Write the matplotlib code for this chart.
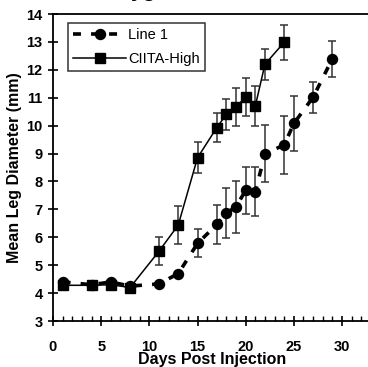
import numpy as np
import matplotlib.pyplot as plt
from matplotlib.ticker import MultipleLocator

plt.rcParams['font.family'] = ['Liberation Sans', 'DejaVu Sans']

# Line 1 (circles, dashed)
days_line1 = [1, 4, 6, 8, 11, 13, 15, 17, 18, 19, 20, 21, 22, 24, 25, 27, 29]
mean_line1 = [4.4, 4.3, 4.4, 4.25, 4.33, 4.7, 5.78, 6.46, 6.86, 7.1, 7.68, 7.63, 8.99, 9.31, 10.08, 11.02, 12.4]
err_line1 = [0, 0, 0, 0, 0, 0, 0.5, 0.71, 0.9, 0.93, 0.85, 0.88, 1.02, 1.04, 0.99, 0.56, 0.65]

# CIITA-High (squares, solid)
days_ciita = [1, 4, 6, 8, 11, 13, 15, 17, 18, 19, 20, 21, 22, 24]
mean_ciita = [4.28, 4.28, 4.3, 4.2, 5.5, 6.44, 8.85, 9.93, 10.41, 10.67, 11.02, 10.71, 12.2, 12.99]
err_ciita = [0, 0, 0, 0, 0.5, 0.68, 0.55, 0.53, 0.55, 0.67, 0.69, 0.72, 0.56, 0.62]

fig = plt.figure(figsize=(3.68, 3.67), dpi=100)
ax = fig.add_axes([0.144, 0.1253, 0.864, 0.8365])

# error bars first so markers sit on top
ax.errorbar(days_line1, mean_line1, yerr=err_line1, fmt='none', ecolor='#333333',
            elinewidth=1.1, capsize=3, capthick=1.1, zorder=2)
ax.errorbar(days_ciita, mean_ciita, yerr=err_ciita, fmt='none', ecolor='#333333',
            elinewidth=1.1, capsize=3, capthick=1.1, zorder=2)

ax.plot(days_line1, mean_line1, color='black', linestyle=(0, (2.2, 2.8)), linewidth=2.6,
        marker='o', markersize=7.2, label='Line 1', zorder=3)
ax.plot(days_ciita, mean_ciita, color='black', linestyle='-', linewidth=1.1,
        marker='s', markersize=6.5, label='CIITA-High', zorder=4)

ax.set_xlim(0, 33)
ax.set_ylim(3, 14)
ax.xaxis.set_major_locator(MultipleLocator(5))
ax.xaxis.set_minor_locator(MultipleLocator(1))
ax.yaxis.set_major_locator(MultipleLocator(1))
ax.tick_params(axis='both', which='major', direction='inout', length=7, width=1.2,
               labelsize=10.5)
ax.tick_params(axis='y', which='major', pad=4)
ax.tick_params(axis='x', which='major', pad=10)
ax.tick_params(axis='x', which='minor', direction='in', length=3.5, width=1)
for lab in ax.get_xticklabels() + ax.get_yticklabels():
    lab.set_fontweight('bold')

ax.spines['right'].set_visible(False)
for s in ['left', 'bottom', 'top']:
    ax.spines[s].set_linewidth(1.3)

ax.set_xlabel('Days Post Injection', fontsize=11.5, fontweight='bold', labelpad=-1)
ax.set_ylabel('Mean Leg Diameter (mm)', fontsize=11.5, fontweight='bold', labelpad=3)

leg = ax.legend(loc='upper left', bbox_to_anchor=(0.048, 0.97), fontsize=10.5,
                frameon=True, fancybox=False, edgecolor='black', handlelength=3.6,
                borderpad=0.35, labelspacing=0.65, handletextpad=0.15, borderaxespad=0)
leg.get_frame().set_linewidth(1.1)

# cropped title fragment at the very top (only descenders show)
fig.text(0.39, 1.012, 'yg', fontsize=16, fontweight='bold', ha='center', va='baseline')

fig.savefig('out.png', dpi=100)
